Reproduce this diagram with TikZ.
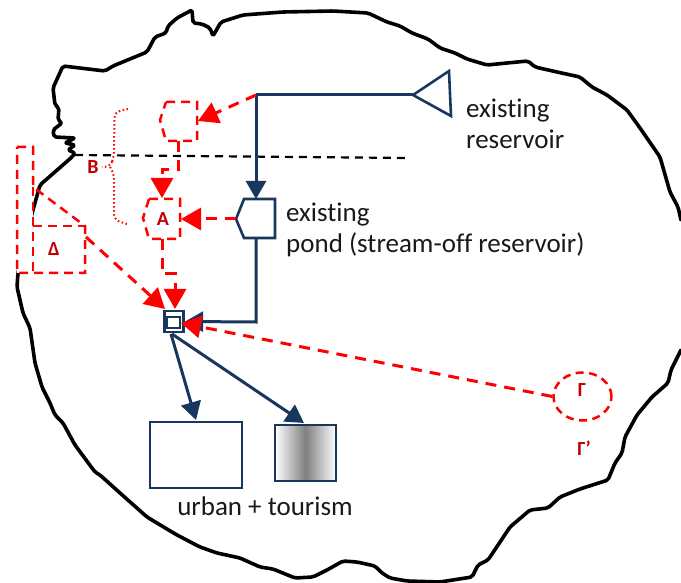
\documentclass[tikz,border=0pt]{standalone}
\usepackage{fontspec}
\setmainfont[Ligatures=NoCommon]{Carlito}
\usetikzlibrary{arrows.meta,shapes.geometric}
\definecolor{navy}{RGB}{23,55,94}
\definecolor{labelred}{RGB}{192,0,0}
\tikzset{
  coast/.style={draw=black,line width=3.6pt,line join=round,line cap=round,rounded corners=2pt},
  bluestroke/.style={draw=navy,line width=3pt,line join=miter},
  blueshape/.style={draw=navy,line width=2.6pt,line join=miter,fill=white},
  bluearrow/.style={bluestroke,-{Triangle[length=18pt,width=20pt]}},
  redshape/.style={draw=red,line width=2.5pt,dash pattern=on 9pt off 6pt,fill=white},
  redarrow/.style={draw=red,line width=3pt,dash pattern=on 11pt off 8pt,-{Triangle[length=20pt,width=22pt,fill=red]}},
  dashblack/.style={draw=black,line width=2.2pt,dash pattern=on 8pt off 6pt},
  label/.style={font=\fontsize{27}{32}\selectfont,text=black!90,inner sep=0pt,anchor=base west},
  redlabel/.style={font=\bfseries\fontsize{20}{24}\selectfont,text=labelred,inner sep=0pt},
  braceline/.style={draw=red,line width=2pt,dash pattern=on 1.5pt off 2.5pt,rounded corners=6pt},
}
\begin{document}
\begin{tikzpicture}[x=1pt,y=-1pt]
\path[use as bounding box] (0,0) rectangle (681,583);
\clip (0,0) rectangle (681,583);
% coastline
\path[coast] (681,350)--(671,370)--(668,383)--(652,397)--(637,415)--(625,437)--(622,453)--(615,463)--(608,480)
 --(580,489)--(560,497)--(548,508)--(530,510)--(510,527)--(488,560)--(478,565)--(472,577)
 --(440,582)--(407,581)--(390,578)--(382,573)--(375,566)--(357,562)--(343,561)--(327,570)--(313,577)--(295,578)
 --(273,569)--(260,567)--(240,558)--(217,553)--(200,547)--(177,535)--(147,517)--(120,493)--(100,475)--(95,472)
 --(75,445)--(63,423)--(55,415)--(50,403)--(42,387)--(35,363)--(30,328)--(23,313)--(17,287)--(18,273)--(25,240)
 --(33,210)--(40,185)--(72,157)--(75,153)--(68,150)--(75,145)--(65,143)--(75,138)--(54,137)--(53,130)--(62,123)
 --(58,120)--(59,108)--(55,105)--(53,88)--(63,66)--(105,71)--(113,66)--(147,52)--(155,37)--(166,33)--(168,26)
 --(177,18)--(192,10)--(193,23)--(202,24)--(210,28)--(213,36)--(221,22)--(243,15)--(283,12)--(333,11)--(368,13)
 --(387,22)--(400,26)--(412,33)--(428,39)--(440,48)--(455,53)--(467,59)--(487,65)--(507,63)--(528,61)--(535,67)
 --(557,72)--(580,77)--(592,87)--(607,95)--(627,110)--(640,128)--(660,157)--(670,192)--(678,207)--(681,220);
% coordinates
\coordinate (sw) at (256,95);
\coordinate (dashL) at (75,155);
\coordinate (dashR) at (410,158);
\draw[dashblack] (dashL)--(dashR);
% delta region
\fill[white] (17,147) rectangle (33,273);
\path[redshape,fill=none] (17,147)--(33,147)--(33,187)--(85,226)--(85,273)--(17,273)--cycle;
\path[redshape,fill=none] (33,187)--(33,273);
\path[redshape,fill=none] (33,226)--(85,226);
\node[redlabel] (delta) at (54,249) {Δ};
\coordinate (deltaOut) at (86,237);
% upper hex
\path[redshape] (166,102)--(197,102)--(197,141)--(166,141)--(160,120)--cycle;
\coordinate (hexIn) at (198,121);
\coordinate (hexOut) at (178,141);
\coordinate (hexB1) at (178,170);
\coordinate (hexB2) at (162,170);
% A hex
\path[redshape] (149,199)--(180,199)--(180,239)--(149,239)--(143,218)--cycle;
\node[redlabel] (A) at (163,219) {A};
\coordinate (aTop) at (162,198);
\coordinate (aRight) at (181,219);
\coordinate (aOut) at (162,239);
\coordinate (aB1) at (162,274);
\coordinate (aB2) at (175,274);
% brace
\path[braceline] (128,109)--(114.5,112)--(114,157)--(110,167)--(102,167);
\path[braceline] (110,167)--(114,173)--(114,220)--(127,224);
\node[redlabel] (B) at (93,167) {B};
% blue
\node[draw=navy,line width=2.6pt,fill=white,minimum width=19.5pt,minimum height=21pt,inner sep=0pt] (sq) at (174,321.5) {};
\node[draw=navy,line width=2.4pt,fill=white,minimum width=13.5pt,minimum height=11pt,inner sep=0pt] (sqin) at (173.5,322.5) {};
\coordinate (triTip) at (413,95);
\draw[bluestroke] (sw)--(triTip);
\path[blueshape] (triTip)--(449,71)--(451,116)--cycle;
\coordinate (pondTop) at (256,199);
\coordinate (pondLeft) at (236,219);
\coordinate (pondBot) at (256,238);
\coordinate (sqCorner) at (256,322);
\path[blueshape] (pondLeft)--(244,199)--(275,199)--(275,238)--(244,238)--cycle;
\draw[bluearrow] (sw)--(pondTop);
\draw[bluearrow] (pondBot)--(sqCorner)--(sq.east);
\node[draw=navy,line width=2.6pt,minimum width=92pt,minimum height=66pt,inner sep=0pt,fill=white] (urban) at (196,455) {};
\node[draw=navy,line width=2.6pt,minimum width=61pt,minimum height=56pt,inner sep=0pt,left color=white,right color=white,middle color=black!50,shading angle=90] (tour) at (305.5,453) {};
\coordinate (sqOut1) at (171,334);
\coordinate (sqOut2) at (172,334);
\coordinate (urbanIn) at (196,420);
\coordinate (tourIn) at (304,423);
\draw[bluearrow] (sqOut1)--(urbanIn);
\draw[bluearrow] (sqOut2)--(tourIn);
% gamma
\node[draw=red,line width=2.5pt,dash pattern=on 8pt off 5.5pt,ellipse,minimum width=58pt,minimum height=48pt,inner sep=0pt] (gam) at (582.5,396.5) {};
\node[redlabel] (G) at (582,390) {Γ};
\node[redlabel] (Gp) at (584,448) {Γ'};
% red connectors
\coordinate (sqTop) at (175,309);
\coordinate (sqTL) at (165,309);
\coordinate (sqR) at (181,323);
\draw[redarrow] (sw)--(hexIn);
\draw[redarrow] (hexOut)--(hexB1)--(hexB2)--(aTop);
\draw[redarrow] (pondLeft)--(aRight);
\draw[redarrow] (aOut)--(aB1)--(aB2)--(sqTop);
\draw[redarrow] (deltaOut)--(sqTL);
\draw[redarrow] (gam.west)--(sqR);
% text
\node[label] (t1) at (466,117.5) {existing};
\node[label] (t2) at (466,148.5) {reservoir};
\node[label] (t3) at (286,222) {existing};
\node[label] (t4) at (286,253) {pond (stream-off reservoir)};
\node[label,anchor=base] (t5) at (265,515.5) {urban + tourism};
\end{tikzpicture}
\end{document}
